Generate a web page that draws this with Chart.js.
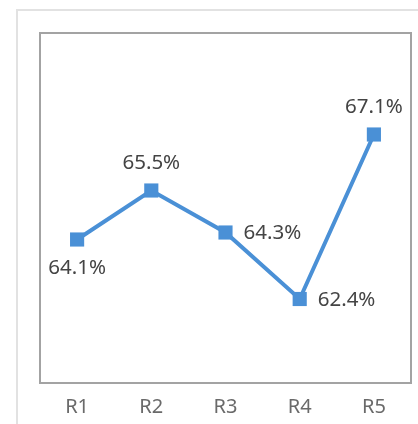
<!DOCTYPE html>
<html>
<head>
<meta charset="utf-8">
<script src="https://cdn.jsdelivr.net/npm/chart.js@4"></script>
<style>
    html, body { margin: 0; padding: 0; background: #fff; overflow: hidden; width: 418px; height: 424px; }
    canvas { display: block; }
</style>
</head>
<body>
<!-- a few px wider than the window so the plot box ends where the reference's does -->
<canvas id="chart" width="421" height="424"></canvas>
<script>
const rounds = ["R1", "R2", "R3", "R4", "R5"];
const rates = [64.1, 65.5, 64.3, 62.4, 67.1];
const labelSide = ["below", "above", "right", "right", "above"];

const lineColor = "#4a90d6";

// card edge, outline of the plot area, value labels next to each point
const plotDecor = {
    id: "plotDecor",
    beforeDraw(chart) {
        const { ctx } = chart;
        ctx.save();
        ctx.strokeStyle = "#e2e2e2";
        ctx.lineWidth = 2;
        ctx.beginPath();
        ctx.moveTo(17, chart.height);
        ctx.lineTo(17, 10);
        ctx.lineTo(chart.width, 10);
        ctx.stroke();
        ctx.restore();
    },
    beforeDatasetsDraw(chart) {
        const { ctx, chartArea: a } = chart;
        ctx.save();
        ctx.strokeStyle = "#a3a3a3";
        ctx.lineWidth = 2;
        ctx.strokeRect(a.left, a.top, a.right - a.left, a.bottom - a.top);
        ctx.restore();
    },
    afterDatasetsDraw(chart) {
        const { ctx } = chart;
        const meta = chart.getDatasetMeta(0);
        ctx.save();
        ctx.font = "20.5px 'Noto Sans'";
        ctx.fillStyle = "#444";
        meta.data.forEach((pt, i) => {
            const txt = rates[i].toFixed(1) + "%";
            const side = labelSide[i];
            if (side === "above") {
                ctx.textAlign = "center"; ctx.textBaseline = "middle";
                ctx.fillText(txt, pt.x, pt.y - 27);
            } else if (side === "below") {
                ctx.textAlign = "center"; ctx.textBaseline = "middle";
                ctx.fillText(txt, pt.x, pt.y + 29);
            } else {
                ctx.textAlign = "left"; ctx.textBaseline = "middle";
                ctx.fillText(txt, pt.x + 18, pt.y + 1);
            }
        });
        ctx.restore();
    }
};

new Chart(document.getElementById("chart"), {
    type: "line",
    data: {
        labels: rounds,
        datasets: [{
            data: rates,
            borderColor: lineColor,
            backgroundColor: lineColor,
            borderWidth: 4,
            pointStyle: "rect",
            pointRadius: 10,
            pointHoverRadius: 10,
            pointBorderWidth: 0,
            tension: 0
        }]
    },
    options: {
        responsive: false,
        animation: false,
        events: [],
        layout: { padding: { left: 40, right: 4, top: 33, bottom: 0 } },
        plugins: { legend: { display: false }, tooltip: { enabled: false } },
        scales: {
            x: {
                offset: true,
                grid: { display: false, drawTicks: false },
                border: { display: false },
                ticks: { color: "#6a6a6a", font: { family: "Noto Sans", size: 20 }, padding: 12 },
                afterFit(scale) { scale.height = 41; }
            },
            y: { display: false, min: 60, max: 70 }
        }
    },
    plugins: [plotDecor]
});
</script>
</body>
</html>
